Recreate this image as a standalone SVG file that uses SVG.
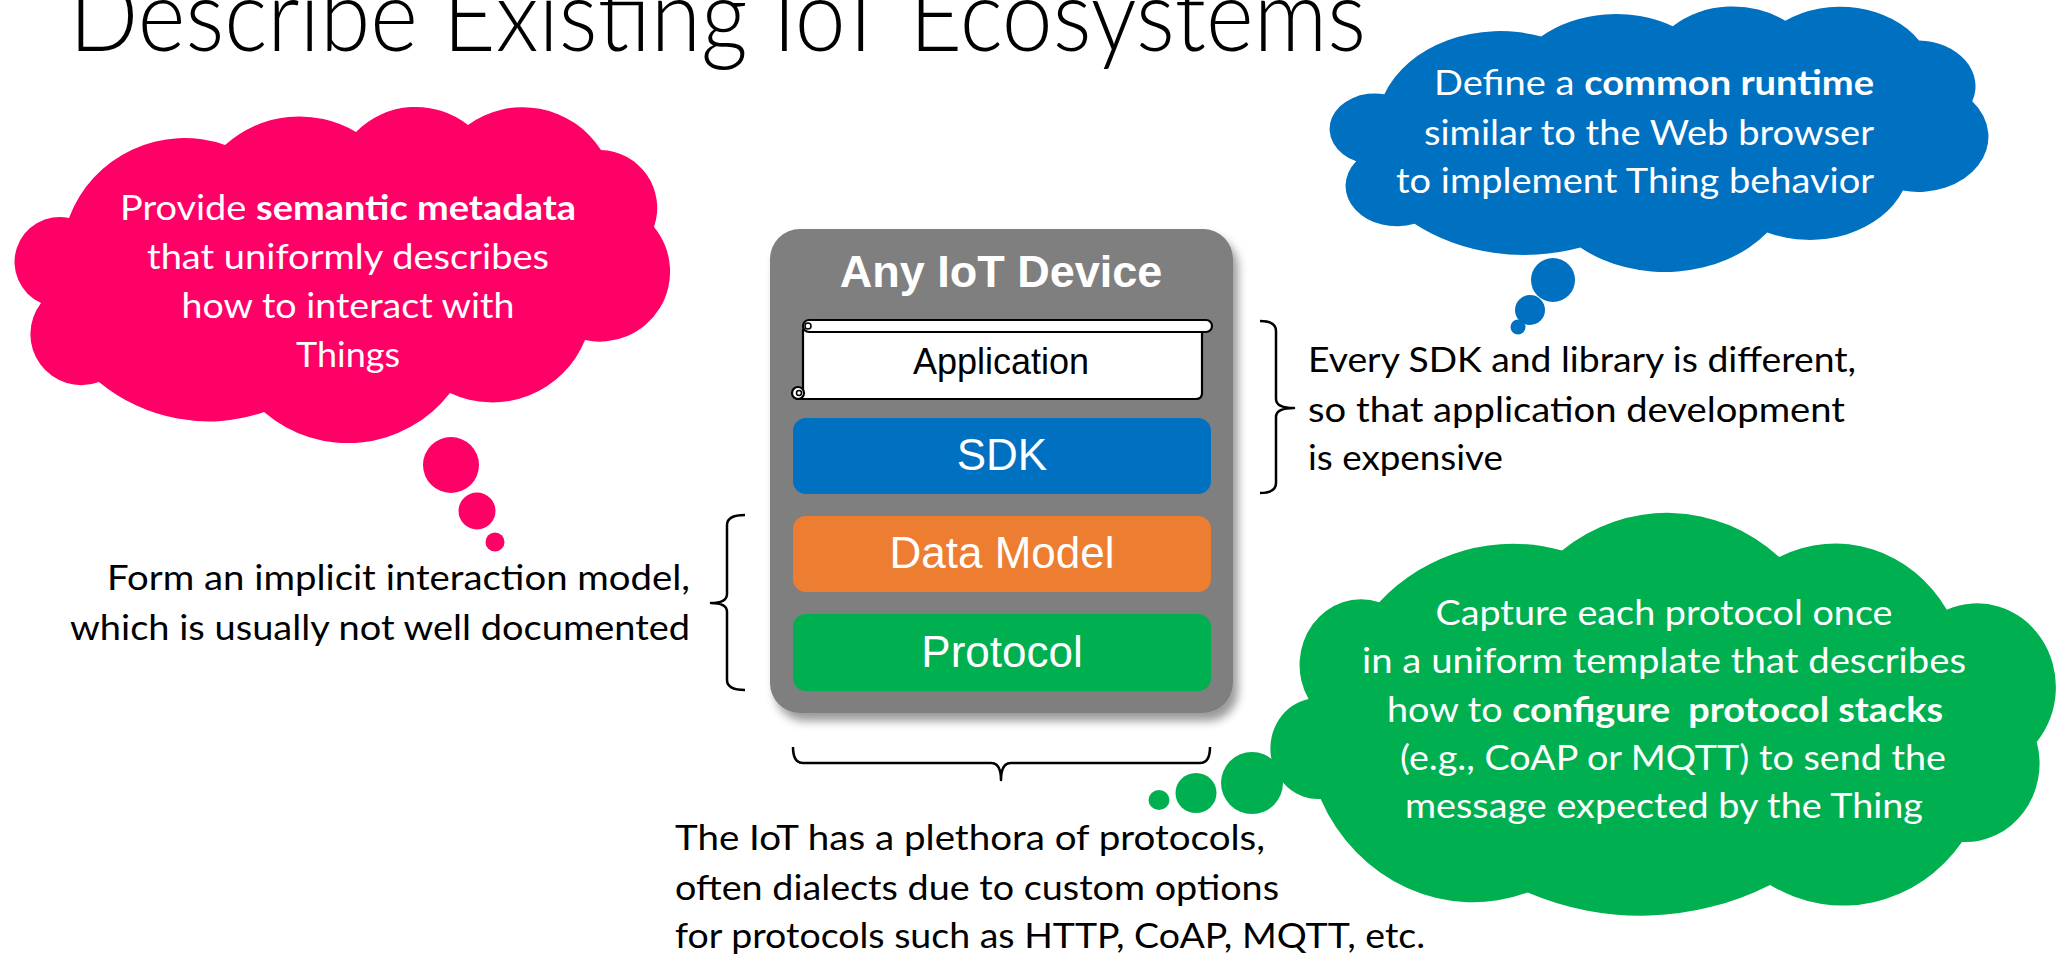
<svg xmlns="http://www.w3.org/2000/svg" width="2062" height="957" viewBox="0 0 2062 957">
  <style>
    .title { font-family: Lato, "Open Sans", "Liberation Sans", sans-serif; font-weight: 300; font-size: 100px; fill: #000; }
    .body { font-family: Lato, "Open Sans", "Liberation Sans", sans-serif; font-size: 34px; }
    .white { fill: #ffffff; }
    .dark { fill: #000000; }
    .b { font-weight: 700; }
    .layer { font-family: "Liberation Sans", Arial, sans-serif; fill: #ffffff; text-anchor: middle; }
    .brace { fill: none; stroke: #000; stroke-width: 2.5; stroke-linejoin: round; }
    .scroll { fill: #ffffff; stroke: #000; stroke-width: 2.2; }
  </style>
  <defs>
    <!-- generic cloud outline, arcs between the notches -->
    <path id="cloudShape" d="M41,303 A45,45 0 0 1 69,218 A123,123 0 0 1 225,145 A111,111 0 0 1 356,132 A84,84 0 0 1 468,125 A93,93 0 0 1 601,150 A58,58 0 0 1 654,227 A70,70 0 0 1 585,340 A100,100 0 0 1 450,393 A129,129 0 0 1 264,412 A171,171 0 0 1 99,382 A51,51 0 0 1 41,303 Z"/>
    <filter id="shadow" x="-10%" y="-10%" width="125%" height="125%">
      <feDropShadow dx="5" dy="8" stdDeviation="5" flood-color="#000" flood-opacity="0.4"/>
    </filter>
  </defs>

  <rect width="2062" height="957" fill="#ffffff"/>

  <g id="title">
    <text class="title" x="69" y="51" textLength="1297" lengthAdjust="spacingAndGlyphs">Describe Existing IoT Ecosystems</text>
  </g>

  <!-- pink thought cloud -->
  <g id="cloud-semantic" fill="#ff0066">
    <use href="#cloudShape"/>
    <ellipse cx="451" cy="465" rx="28" ry="28"/>
    <ellipse cx="477" cy="511" rx="18.5" ry="18.5"/>
    <ellipse cx="495" cy="542" rx="9.5" ry="9.5"/>
    <g class="body white" text-anchor="middle">
      <text x="348" y="220" textLength="456" lengthAdjust="spacingAndGlyphs">Provide <tspan class="b">semantic metadata</tspan></text>
      <text x="348" y="269" textLength="402" lengthAdjust="spacingAndGlyphs">that uniformly describes</text>
      <text x="348" y="318" textLength="333" lengthAdjust="spacingAndGlyphs">how to interact with</text>
      <text x="348" y="367" textLength="104" lengthAdjust="spacingAndGlyphs">Things</text>
    </g>
  </g>

  <!-- blue thought cloud -->
  <g id="cloud-runtime" fill="#0070c0">
    <use href="#cloudShape" transform="matrix(1.005 0 0 0.79 1315 -78)"/>
    <ellipse cx="1553" cy="280" rx="22" ry="22"/>
    <ellipse cx="1530" cy="310" rx="15" ry="15"/>
    <ellipse cx="1518" cy="327" rx="7.5" ry="7.5"/>
    <g class="body white" text-anchor="end">
      <text x="1874" y="95" textLength="440" lengthAdjust="spacingAndGlyphs">Define a <tspan class="b">common runtime</tspan></text>
      <text x="1874" y="145" textLength="450" lengthAdjust="spacingAndGlyphs">similar to the Web browser</text>
      <text x="1874" y="193" textLength="478" lengthAdjust="spacingAndGlyphs">to implement Thing behavior</text>
    </g>
  </g>

  <!-- green thought cloud -->
  <g id="cloud-protocol" fill="#00b050">
    <path transform="matrix(1.01 0 0 1.075 -16.6 -53.6)" d="M1563,562 A171,171 0 0 1 1778,568 A130,130 0 0 1 1944,617 A78,78 0 0 1 2033,740 A73,73 0 0 1 1959,833 A146,146 0 0 1 1769,873 A300,300 0 0 1 1529,880 A166,166 0 0 1 1324,793 A47,47 0 0 1 1312,700 A61,61 0 0 1 1382,610 A188,188 0 0 1 1563,562 Z"/>
    <ellipse cx="1252" cy="783" rx="31" ry="31"/>
    <ellipse cx="1196" cy="793" rx="20.5" ry="20"/>
    <ellipse cx="1159" cy="800" rx="10.5" ry="10"/>
    <g class="body white" text-anchor="middle">
      <text x="1664" y="625" textLength="457" lengthAdjust="spacingAndGlyphs">Capture each protocol once</text>
      <text x="1664" y="673" textLength="604" lengthAdjust="spacingAndGlyphs">in a uniform template that describes</text>
      <text x="1665" y="722" textLength="556" lengthAdjust="spacingAndGlyphs">how to <tspan class="b">configure</tspan><tspan class="b" dx="8"> protocol stacks</tspan></text>
      <text x="1673" y="770" textLength="546" lengthAdjust="spacingAndGlyphs">(e.g., CoAP or MQTT) to send the</text>
      <text x="1664" y="818" textLength="518" lengthAdjust="spacingAndGlyphs">message expected by the Thing</text>
    </g>
  </g>

  <!-- device stack -->
  <g id="device">
    <rect x="770" y="229" width="463" height="484" rx="30" fill="#7f7f7f" filter="url(#shadow)"/>
    <text class="layer" x="1001" y="287" font-size="45" font-weight="700">Any IoT Device</text>
    <g id="layer-application">
      <path class="scroll" d="M803,330 L803,393 L798,399 L1196,399 Q1202,399 1202,393 L1202,330 Z"/>
      <rect class="scroll" x="803" y="320" width="409" height="12" rx="6"/>
      <circle class="scroll" cx="798" cy="393" r="6"/>
      <circle cx="808" cy="326" r="3" fill="none" stroke="#000" stroke-width="1.5"/>
      <circle cx="799" cy="393" r="2.5" fill="none" stroke="#000" stroke-width="1.5"/>
      <text x="1001" y="374" font-family="Liberation Sans, Arial, sans-serif" font-size="36" text-anchor="middle" fill="#000">Application</text>
    </g>
    <g id="layer-sdk">
      <rect x="793" y="418" width="418" height="76" rx="13" fill="#0070c0"/>
      <text class="layer" x="1002" y="470" font-size="44">SDK</text>
    </g>
    <g id="layer-data-model">
      <rect x="793" y="516" width="418" height="76" rx="13" fill="#ed7d31"/>
      <text class="layer" x="1002" y="568" font-size="44">Data Model</text>
    </g>
    <g id="layer-protocol">
      <rect x="793" y="614" width="418" height="77" rx="13" fill="#00b050"/>
      <text class="layer" x="1002" y="667" font-size="44">Protocol</text>
    </g>
  </g>

  <!-- annotations -->
  <g id="note-sdk" class="body dark">
    <text x="1308" y="372" textLength="548" lengthAdjust="spacingAndGlyphs">Every SDK and library is different,</text>
    <text x="1308" y="422" textLength="537" lengthAdjust="spacingAndGlyphs">so that application development</text>
    <text x="1308" y="470" textLength="195" lengthAdjust="spacingAndGlyphs">is expensive</text>
  </g>
  <g id="note-interaction" class="body dark" text-anchor="end">
    <text x="690" y="590" textLength="583" lengthAdjust="spacingAndGlyphs">Form an implicit interaction model,</text>
    <text x="690" y="640" textLength="620" lengthAdjust="spacingAndGlyphs">which is usually not well documented</text>
  </g>
  <g id="note-protocols" class="body dark">
    <text x="675" y="850" textLength="590" lengthAdjust="spacingAndGlyphs">The IoT has a plethora of protocols,</text>
    <text x="675" y="900" textLength="604" lengthAdjust="spacingAndGlyphs">often dialects due to custom options</text>
    <text x="675" y="948" textLength="750" lengthAdjust="spacingAndGlyphs">for protocols such as HTTP, CoAP, MQTT, etc.</text>
  </g>

  <!-- braces -->
  <g id="connectors">
    <path class="brace" d="M1260,321 Q1276,321 1276,331 L1276,399 Q1276,408 1294,408 Q1276,408 1276,417 L1276,483 Q1276,493 1260,493"/>
    <path class="brace" d="M745,515 Q727,515 727,525 L727,594 Q727,603 711,603 Q727,603 727,612 L727,680 Q727,690 745,690"/>
    <path class="brace" d="M793,747 Q793,763 803,763 L991,763 Q1001,763 1001,780 Q1001,763 1011,763 L1200,763 Q1210,763 1210,747"/>
  </g>
</svg>
